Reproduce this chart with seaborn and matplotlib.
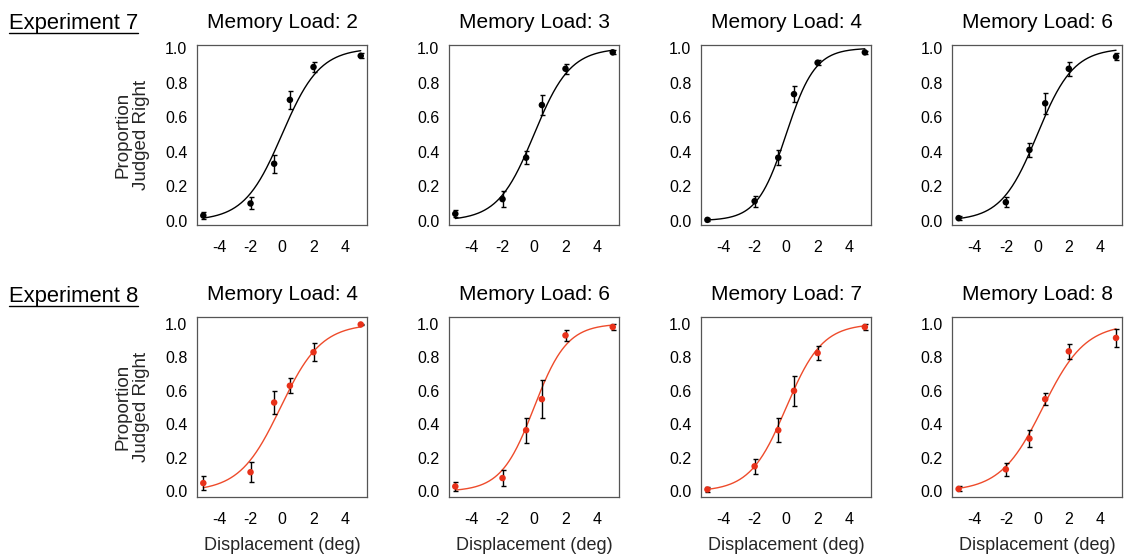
import numpy as np
import pandas as pd
import matplotlib
matplotlib.use("Agg")
import matplotlib.pyplot as plt
import seaborn as sns
from matplotlib.lines import Line2D

sns.set_theme(style="white")
plt.rcParams['font.family'] = ['Liberation Sans', 'DejaVu Sans']

# ---- data ----
displacement = [-5, -2, -0.5, 0.5, 2, 5]
x_ticks = [-4, -2, 0, 2, 4]
y_ticks = [0.0, 0.2, 0.4, 0.6, 0.8, 1.0]

exp7_loads = [2, 3, 4, 6]
exp7_prop = [
    [0.030, 0.100, 0.330, 0.700, 0.890, 0.955],
    [0.040, 0.125, 0.365, 0.670, 0.880, 0.975],
    [0.005, 0.113, 0.365, 0.733, 0.915, 0.975],
    [0.015, 0.107, 0.410, 0.680, 0.880, 0.950],
]
exp7_err = [
    [0.020, 0.035, 0.052, 0.052, 0.030, 0.015],
    [0.020, 0.045, 0.038, 0.058, 0.030, 0.012],
    [0.008, 0.033, 0.042, 0.048, 0.015, 0.010],
    [0.010, 0.030, 0.040, 0.060, 0.040, 0.020],
]
# fitted logistic parameters (midpoint, scale)
exp7_mu = [0.0, 0.0, 0.0, 0.0]
exp7_scale = [1.2, 1.15, 0.92, 1.15]

exp8_loads = [4, 6, 7, 8]
exp8_prop = [
    [0.050, 0.115, 0.530, 0.630, 0.830, 0.995],
    [0.030, 0.080, 0.365, 0.550, 0.930, 0.980],
    [0.012, 0.150, 0.365, 0.600, 0.825, 0.980],
    [0.015, 0.132, 0.315, 0.550, 0.835, 0.915],
]
exp8_err = [
    [0.040, 0.060, 0.070, 0.045, 0.055, 0.005],
    [0.025, 0.050, 0.075, 0.115, 0.035, 0.015],
    [0.015, 0.045, 0.070, 0.090, 0.040, 0.015],
    [0.015, 0.040, 0.050, 0.035, 0.045, 0.055],
]
exp8_mu = [-0.1, 0.0, 0.0, 0.35]
exp8_scale = [1.3, 1.05, 1.15, 1.35]

fig = plt.figure(figsize=(11.29, 5.57), dpi=100)

lefts = [0.1745, 0.3977, 0.6210, 0.8435]
width = 0.1506
height = 0.323
bottoms = [0.596, 0.108]

rows = [
    (exp7_loads, exp7_prop, exp7_err, exp7_mu, exp7_scale, 'black', 'black', (-0.025, 1.017)),
    (exp8_loads, exp8_prop, exp8_err, exp8_mu, exp8_scale, '#EE4B2B', '#E8311A', (-0.032, 1.04)),
]

xs = np.linspace(-5, 5, 200)
for r, (loads, props, errs, mus, scales, lcol, pcol, ylim) in enumerate(rows):
    for c in range(4):
        ax = fig.add_axes([lefts[c], bottoms[r], width, height])
        curve = pd.DataFrame({'x': xs, 'y': 1 / (1 + np.exp(-(xs - mus[c]) / scales[c]))})
        sns.lineplot(data=curve, x='x', y='y', ax=ax, color=lcol, lw=1.0)
        ax.errorbar(displacement, props[c], yerr=errs[c], fmt='none',
                    ecolor='black', elinewidth=1.0, capsize=1.8, capthick=1.0, zorder=3)
        pts = pd.DataFrame({'x': displacement, 'y': props[c]})
        sns.scatterplot(data=pts, x='x', y='y', ax=ax, color=pcol, s=22,
                        edgecolor='none', zorder=4)
        ax.set_xlim(-5.4, 5.4)
        ax.set_ylim(*ylim)
        ax.set_xticks(x_ticks)
        ax.set_xticklabels([str(t) for t in x_ticks])
        ax.set_yticks(y_ticks)
        ax.set_yticklabels([f"{t:.1f}" for t in y_ticks])
        ax.tick_params(axis='both', direction='out', length=5, width=0.8,
                       color='#333333', labelsize=11.5, colors='black', pad=2)
        ax.tick_params(axis='x', pad=6)
        for sp in ax.spines.values():
            sp.set_color('#555555')
            sp.set_linewidth(0.9)
        ax.set_xlabel('Displacement (deg)' if r == 1 else '', fontsize=13, labelpad=7)
        ax.set_ylabel('Proportion\nJudged Right' if c == 0 else '', fontsize=13.5,
                      linespacing=1.05, labelpad=11)
        ax.set_title(f"Memory Load: {loads[c]}", fontsize=15, pad=12, color='black')

# experiment labels (underlined)
fig.canvas.draw()
renderer = fig.canvas.get_renderer()
for label, y in [("Experiment 7", 0.948), ("Experiment 8", 0.458)]:
    t = fig.text(0.008, y, label, fontsize=15.8, ha='left', va='baseline', color='black')
    bb = t.get_window_extent(renderer=renderer).transformed(fig.transFigure.inverted())
    fig.add_artist(Line2D([bb.x0, bb.x1], [y - 0.008, y - 0.008],
                          transform=fig.transFigure, color='black', lw=1.0))

fig.savefig('out.png', dpi=100)
